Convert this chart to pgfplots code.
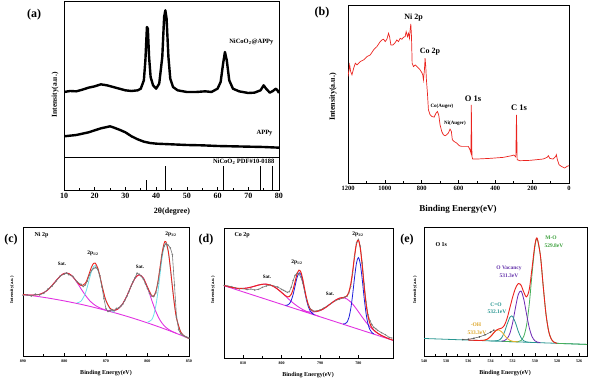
\documentclass[border=0pt]{standalone}
\usepackage{fontspec}
\setmainfont{Liberation Serif}
\usepackage{pgfplots}
\pgfplotsset{compat=1.18}
\newcommand\fs[1]{\bfseries\fontsize{#1}{#1}\selectfont}
\definecolor{mag}{RGB}{225,50,225}
\definecolor{cyn}{RGB}{110,225,235}
\definecolor{blu}{RGB}{30,30,220}
\definecolor{rd}{RGB}{235,35,30}
\definecolor{gry}{RGB}{120,120,120}
\definecolor{grn}{RGB}{70,175,90}
\definecolor{pur}{RGB}{110,40,180}
\definecolor{tea}{RGB}{40,150,145}
\definecolor{yel}{RGB}{235,175,40}
\definecolor{grnT}{RGB}{60,160,60}
\definecolor{purT}{RGB}{100,50,170}
\definecolor{yelT}{RGB}{220,165,40}
\begin{document}
\begin{tikzpicture}
\useasboundingbox (0pt,0pt) rectangle (591pt,382pt);
\pgfplotsset{base/.style={scale only axis, anchor=south west,
  axis line style={line width=0.7pt}, tick align=inside, xtick pos=bottom, ytick=\empty,
  /pgf/number format/assume math mode=true, /pgf/number format/1000 sep={},
  major tick length=2.5pt, minor tick length=1.5pt, tick style={line width=0.6pt, black}}}
% ---------- (a) upper ----------
\begin{axis}[base, at={(64pt,225pt)}, width=215pt, height=156pt,
  xmin=10, xmax=80, ymin=0, ymax=468, xtick=\empty]
\addplot[black, line width=2.4pt, line join=round] coordinates {(10,195)(12,198)(14,197)(16,202)(18,208)(20,212)(22,218)(24,215)(26,210)(28,205)(30,200)(32,198)(34,200)(35,205)(36,230)(36.5,290)(37.0,390)(37.3,385)(37.7,300)(38.2,240)(39,215)(40,205)(41,220)(42,300)(42.6,420)(43.0,440)(43.4,415)(44,300)(44.6,235)(45.5,210)(47,200)(50,195)(53,195)(56,197)(58,195)(60,205)(61,225)(61.8,280)(62.4,315)(63,290)(63.8,230)(65,205)(67,197)(70,192)(72,193)(74,200)(75.0,215)(75.8,205)(77,193)(78,198)(79,205)(79.5,200)(80,192)};
\addplot[black, line width=2.4pt, line join=round] coordinates {(10,62)(12,64)(14,66)(16,70)(18,74)(20,80)(22,86)(24,90)(25,92)(26,89)(28,82)(30,74)(32,62)(34,53)(36,46)(38,42)(40,40)(45,38)(50,36)(55,35)(60,33)(65,32)(70,31)(75,30)(80,28)};
\end{axis}
% ---------- (a) lower ----------
\begin{axis}[base, at={(64pt,192pt)}, width=215pt, height=33pt,
  xmin=10, xmax=80, ymin=0, ymax=1, xtick={10,20,...,80}, minor x tick num=1,
  ticklabel style={font=\fs{8}}]
\addplot[ycomb, black, line width=1pt, mark=none] coordinates {(37,0.3)(43,0.72)(62,0.72)(74,0.72)(78,0.72)};
\end{axis}
% ---------- (b) ----------
\begin{axis}[base, at={(348pt,199pt)}, width=221pt, height=178pt,
  x dir=reverse, xmin=0, xmax=1200, ymin=0, ymax=535, xtick={0,200,...,1200}, minor x tick num=1,
  ticklabel style={font=\fs{6.5}}]
\addplot[rd, line width=0.7pt] coordinates {(1200,320)(1194.6,340)(1191,355)(1185.6,335)(1178.4,325)(1169.3,345)(1160.3,360)(1151.3,355)(1133.2,365)(1115.2,370)(1097.1,380)(1079.1,385)(1061.1,400)(1043.0,410)(1025.0,425)(1016,430)(1006.9,432)(997.9,425)(988.9,432)(979.8,450)(974.4,440)(967.2,415)(956.4,415)(943.8,422)(934.7,430)(925.7,425)(916.7,435)(907.6,432)(898.6,438)(889.6,440)(884.2,455)(877.0,440)(871.6,450)(866.2,435)(862.6,460)(858.9,478)(855.3,440)(851.7,360)(844.5,350)(835.5,355)(826.4,350)(817.4,345)(808.4,340)(799.4,332)(794.0,325)(790.4,310)(785.0,340)(781.4,375)(777.8,350)(774.2,310)(768.7,270)(763.3,220)(754.3,205)(745.3,200)(732.6,198)(721.8,210)(714.6,215)(707.4,205)(700.2,175)(691.1,155)(682.1,145)(673.1,142)(664.1,145)(655.0,150)(646.0,162)(638.8,155)(633.4,130)(624.4,125)(609.9,120)(595.5,112)(582.9,110)(564.8,110)(546.8,110)(537.7,100)(532.3,90)(530.5,235)(526.9,80)(523.3,72)(501.7,72)(429.5,74)(357.3,77)(312.2,82)(299.5,84)(288.7,78)(285.1,205)(281.5,70)(267.1,67)(212.9,68)(140.8,72)(119.1,77)(111.9,82)(104.7,74)(86.6,72)(72.2,80)(68.6,85)(63.2,70)(54.1,55)(41.5,50)(23.5,45)(10.8,50)(0,52)};
\end{axis}
% ---------- (c) ----------
\begin{axis}[base, at={(23pt,26pt)}, width=166pt, height=129pt,
  x dir=reverse, xmin=850, xmax=890, ymin=0, ymax=382, xtick={850,860,...,890}, minor x tick num=1,
  ticklabel style={font=\fs{4}}]
\addplot[mag, line width=0.9pt, smooth] coordinates {(890,182)(888,178.9)(886,175.5)(884,171.7)(882,167.5)(880,163.0)(878,158.1)(876,152.9)(874,147.3)(872,141.3)(870,135)(868,128.3)(866,121.3)(864,113.9)(862,106.1)(860,98.0)(858,89.5)(856,80.7)(854,71.5)(852,61.9)(850,52)};
\addplot[mag, line width=0.9pt, smooth, tension=0.5] coordinates {(890,182.2)(888,180.2)(886,182.5)(885,187.5)(884,196.2)(883,208.9)(882,223.5)(881,236.9)(880,244.8)(879,244.2)(878,234.6)(877,218.1)(876,198.8)(875,180.4)(874,164.9)(873,153.6)(872,145.6)(871,140.0)(870,135.7)(869,131.9)};
\addplot[mag, line width=0.9pt, smooth, tension=0.5] coordinates {(870,135.6)(869,133.8)(868,134.5)(867,140.3)(866,154.3)(865,177.1)(864,205.6)(863,230.3)(862,240.7)(861,230.4)(860,202.1)(859,165.9)(858,132.0)(857,106.5)(856,89.9)(855,79.4)(854,72.5)(853,66.9)};
\addplot[cyn, line width=0.8pt, smooth, tension=0.5] coordinates {(877,157.2)(876,162.5)(875,184.9)(874.5,204.6)(874,228.2)(873.5,250.2)(873,264.9)(872.6,268.2)(872,256.7)(871.5,235.4)(871,208.8)(870.5,183.5)(870,162.9)(869,138.7)(868,129.4)};
\addplot[cyn, line width=0.8pt, smooth, tension=0.5] coordinates {(860,99.8)(859,107.1)(858.5,121.5)(858,148.0)(857.5,188.3)(857,239.1)(856.5,289.4)(856,324.3)(855.6,332.8)(855,307.8)(854.5,260.0)(854,203.7)(853.5,151.6)(853,112.0)(852,71.2)(851,58.1)(850,52)};
\addplot[rd, line width=0.9pt, smooth, tension=0.5] coordinates {(890,182.2)(888,180.2)(886,182.5)(885,187.5)(884,196.2)(883,208.9)(882,223.5)(881,236.9)(880,244.8)(879,244.2)(878,234.8)(877,219.8)(876,208.4)(875,215.2)(874.5,227.9)(874,245.8)(873.5,263.2)(873,274.2)(872.6,275.2)(872,261.0)(871.5,238.3)(871,210.6)(870.5,185)(870,164.2)(869,141.0)(868,135.6)(867,140.3)(866,154.3)(865,177.1)(864,205.6)(863,230.3)(862,240.7)(861,230.4)(860,203.9)(859,179.2)(858.5,177.9)(858,190.5)(857.5,219.1)(857,260.5)(856.5,303.6)(856,333.5)(855.6,339)(855,311.1)(854.5,261.9)(854,204.7)(853.5,152)(853,112.2)(852,71.2)(851,58.1)(850,52)};
\addplot[gry, line width=0.6pt, mark=o, mark size=0.7pt, mark options={line width=0.3pt}] coordinates {(890,180)(889,181)(888,178)(887,183)(886,181)(885,186)(884,198)(883,207)(882,222)(881,237)(880,243)(879.5,246)(879,241)(878,236)(877,220)(876,212)(875.5,206)(875,210)(874.5,222)(874,240)(873.5,253)(873,259)(872.5,262)(872,257)(871.5,238)(871,205)(870.5,170)(870,140)(869.5,132)(869,134)(868.5,137)(868,134)(867.5,141)(867,142)(866.5,147)(866,153)(865.5,164)(865,176)(864.5,190)(864,206)(863.5,220)(863,232)(862.5,245)(862,242)(861.5,236)(861,228)(860.5,214)(860,200)(859.5,186)(859,178)(858.5,176)(858,187)(857.5,215)(857,255)(856.5,300)(856,325)(855.5,333)(855,328)(854.5,320)(854,300)(853.5,210)(853,115)(852.5,78)(852,66)(851.5,62)(851,58)(850.5,56)(850,53)};
\end{axis}
% ---------- (d) ----------
\begin{axis}[base, at={(224pt,24pt)}, width=169pt, height=130pt,
  x dir=reverse, xmin=771, xmax=815, ymin=0, ymax=390, xtick={780,790,800,810}, minor x tick num=1,
  ticklabel style={font=\fs{4}}]
\addplot[mag, line width=0.9pt] coordinates {(815,217.0)(771,52.9)};
\addplot[mag, line width=0.9pt, smooth, tension=0.5] coordinates {(815,217.5)(812,209.5)(810,208.5)(808,212.4)(806,218.9)(805,221.2)(804,221.5)(803,219.2)(802,214)(801,206.2)(800,196.5)(799,185.8)(798,175)(797,165.1)(796,156.3)(795,148.8)(794,142.3)(793,137)(792,132.3)(791,127.9)(790,123.9)};
\addplot[mag, line width=0.9pt, smooth, tension=0.5] coordinates {(795,143.2)(794,140.4)(793,138.4)(792,137.7)(791,138.9)(790,142.2)(789,148.0)(788,156.1)(787,164.9)(786,173.2)(785,179.2)(784,180.7)(783.5,179.5)(783,176.9)(782,168.0)(781,154.6)(780,138.8)(779,122.5)(778,107.0)(777,93.8)(776,83.0)(775,74.3)(774,67.6)(773,62.1)(772,57.4)};
\addplot[blu, line width=0.8pt, smooth, tension=0.5] coordinates {(799,158.3)(798.5,158.6)(798,162.4)(797.5,172.5)(797,190.7)(796.5,215.8)(796,240.6)(795.5,254.6)(795.3,255.5)(795,250.9)(794.5,230.1)(794,200.9)(793.5,173.2)(793,152.7)(792.5,140.4)(792,133.8)(791.5,130.0)};
\addplot[blu, line width=0.8pt, smooth, tension=0.5] coordinates {(784,102.2)(783.5,102.6)(783,107.1)(782.5,120.5)(782,147.5)(781.5,190.5)(781,242.5)(780.5,285.2)(780,301.4)(779.5,281.5)(779,235.0)(778.5,179.3)(778,132.6)(777.5,101.8)(777,84.8)(776.5,76.5)(776,72.3)};
\addplot[gry, line width=0.6pt, mark=o, mark size=0.6pt, mark options={line width=0.3pt}] coordinates {(815,218)(814,216)(813,214)(812,210)(811,207)(810,208)(809,205)(808,207)(807,204)(806,206)(805,212)(804,216)(803,219)(802,216)(801,213)(800,206)(799.5,203)(799,200)(798.5,197)(798,199)(797.5,212)(797,232)(796.5,248)(796,254)(795.5,252)(795,243)(794.5,225)(794,200)(793.5,176)(793,158)(792.5,147)(792,143)(791.5,140)(791,141)(790,144)(789,150)(788,157)(787,165)(786,172)(785,176)(784,180)(783.5,183)(783,185)(782.5,195)(782,215)(781.5,255)(781,305)(780.5,345)(780,356)(779.5,335)(779,285)(778.5,222)(778,168)(777.5,130)(777,112)(776.5,100)(776,92)(775.5,88)(775,83)(774,76)(773,70)(772,62)(771.3,60)};
\addplot[rd, line width=1pt, smooth, tension=0.5] coordinates {(815,217.5)(813,211.7)(811,208.5)(810,208.5)(809,209.9)(808,212.4)(807,215.6)(806,218.9)(805,221.2)(804,221.5)(803,219.2)(802,214.0)(801,206.2)(800,196.5)(799,186.8)(798.5,183.6)(798,183.9)(797.5,190.8)(797,206.2)(796.5,228.7)(796,251.3)(795.5,263.3)(795,258.1)(794.5,236.3)(794,206.4)(793.5,178.5)(793,158.3)(792.5,146.8)(792,141.4)(791,139.4)(790,142.4)(789,148.1)(788,156.1)(787,164.9)(786,173.2)(785,179.2)(784,181.5)(783.5,182.6)(783,186.4)(782.5,197.8)(782,221.6)(781.5,260.1)(781,306.9)(780.5,343.8)(780,353.8)(779.5,327.6)(779,274.8)(778.5,212.7)(778,160.6)(777.5,124.8)(777,103.3)(776.5,91.2)(776,83.8)(775,74.3)(774,67.6)(773,62.1)(772,57.4)(771,53.3)};
\end{axis}
% ---------- (e) ----------
\begin{axis}[base, at={(424pt,26pt)}, width=163pt, height=129pt,
  x dir=reverse, xmin=525.3, xmax=540, ymin=0, ymax=385, xtick={526,528,...,540}, minor x tick num=1,
  ticklabel style={font=\fs{4}}]
\addplot[tea, line width=0.8pt] coordinates {(540,52.3)(538,49.9)(536,47.5)(534,45.0)(532,42.6)(530,40.2)(528,37.8)(526,35.4)(525.3,34.5)};
\addplot[grn, line width=0.8pt, smooth, tension=0.5] coordinates {(525.3,34.5)(527,36.6)(528,37.8)(528.3,41.6)(528.5,49.0)(528.75,72.9)(529,125.1)(529.25,208.6)(529.5,298.6)(529.8,350.0)(530,326.3)(530.25,247.4)(530.5,157.1)(530.75,92.1)(531,58.8)(531.25,46.3)(531.5,43.0)(532,42.6)(533,43.8)};
\addplot[pur, line width=0.8pt, smooth, tension=0.5] coordinates {(529.5,39.8)(529.8,41.7)(530,45.4)(530.25,57.3)(530.5,83.3)(530.75,124.6)(531,169.2)(531.25,193.9)(531.5,183.2)(531.75,144.4)(532,100.0)(532.25,68.0)(532.5,51.8)(532.75,45.8)(533,44.3)};
\addplot[tea, line width=0.8pt, smooth, tension=0.5] coordinates {(530.5,40.8)(530.75,42.0)(531,45.3)(531.25,54.6)(531.5,73.7)(531.75,99.2)(532,117.8)(532.1,119.7)(532.25,115.8)(532.5,95.0)(532.75,70.8)(533,54.2)(533.25,47.0)(533.5,45.2)(534,45.0)};
\addplot[yel, line width=0.8pt, smooth, tension=0.5] coordinates {(531.5,42.0)(532,43.8)(532.25,46.6)(532.5,52.7)(532.75,62.1)(533,72.2)(533.25,77.9)(533.5,75.9)(533.75,67.5)(534,57.8)(534.25,50.9)(534.5,47.5)(534.75,46.4)(535,46.3)};
\addplot[black!70, line width=0.5pt, mark=*, mark size=0.5pt] coordinates {(536.5,49)(536,50)(535.5,53)(535,57)(534.5,63)(534,71)(533.7,77)};
\addplot[rd, line width=0.9pt, smooth, tension=0.5] coordinates {(528,37.8)(528.3,41.6)(528.5,49.0)(528.75,72.9)(529,125.1)(529.25,208.6)(529.5,298.8)(529.8,351.7)(530,331.5)(530.25,264.2)(530.5,199.6)(530.75,176.5)(531,190.5)(531.25,211.4)(531.5,216.1)(531.75,202.0)(532,176.4)(532.25,144.6)(532.5,113.1)(532.75,91.7)(533,83.1)(533.25,80.8)(533.5,76.6)(533.75,67.5)(534,57.8)(534.25,50.9)(534.5,47.5)(535,46.3)(536,47.5)};
\end{axis}
% ---------- texts ----------
\node[font=\fs{12}] at (34pt,367pt) {(a)};
\node[font=\fs{12}] at (322pt,369pt) {(b)};
\node[font=\fs{12}] at (11pt,142pt) {(c)};
\node[font=\fs{12}] at (206pt,142pt) {(d)};
\node[font=\fs{12}] at (407pt,142pt) {(e)};
% a
\node[font=\fs{6.5}, anchor=east] at (277pt,340pt) {NiCoO\textsubscript{2}@APPy};
\node[font=\fs{6.5}, anchor=east] at (276pt,249pt) {APPy};
\node[font=\fs{6.5}, anchor=east] at (278pt,220pt) {NiCoO\textsubscript{2} PDF\#10-0188};
\node[font=\fs{7.5}, rotate=90] at (55pt,287pt) {Intensity(a.u.)};
\node[font=\fs{8}] at (172pt,170pt) {2θ(degree)};
% b
\node[font=\fs{8}] at (413.5pt,364pt) {Ni 2p};
\node[font=\fs{8}] at (430pt,330pt) {Co 2p};
\node[font=\fs{5}] at (442pt,276pt) {Co(Auger)};
\node[font=\fs{5}] at (455pt,259pt) {Ni(Auger)};
\node[font=\fs{8.5}] at (473pt,283pt) {O 1s};
\node[font=\fs{8.5}] at (519pt,274pt) {C 1s};
\node[font=\fs{8}, rotate=90] at (333pt,285pt) {Intensity(a.u.)};
\node[font=\fs{9}] at (458pt,173pt) {Binding Energy(eV)};
% c
\node[font=\fs{6}, anchor=west] at (31pt,147pt) {Ni 2p};
\node[font=\fs{5}] at (62pt,118pt) {Sat.};
\node[font=\fs{5.5}] at (93pt,129pt) {2p\textsubscript{1/2}};
\node[font=\fs{5}] at (140pt,115pt) {Sat.};
\node[font=\fs{5.5}] at (171pt,148pt) {2p\textsubscript{3/2}};
\node[font=\fs{4.5}, rotate=90] at (12pt,92pt) {Intensity(a.u.)};
\node[font=\fs{6}] at (106pt,9pt) {Binding Energy(eV)};
% d
\node[font=\fs{6}, anchor=west] at (231pt,147pt) {Co 2p};
\node[font=\fs{5}] at (267pt,105pt) {Sat.};
\node[font=\fs{5.5}] at (297pt,120pt) {2p\textsubscript{1/2}};
\node[font=\fs{5}] at (330pt,88pt) {Sat.};
\node[font=\fs{5.5}] at (358pt,148pt) {2p\textsubscript{3/2}};
\node[font=\fs{4.5}, rotate=90] at (213pt,92pt) {Intensity(a.u.)};
\node[font=\fs{6}] at (308pt,7pt) {Binding Energy(eV)};
% e
\node[font=\fs{6}, anchor=west] at (432pt,137pt) {O 1s};
\node[font=\fs{5.5}, text=grnT] at (551pt,144pt) {M-O};
\node[font=\fs{5.5}, text=grnT] at (554pt,136pt) {529.8eV};
\node[font=\fs{5.5}, text=purT] at (509pt,114pt) {O Vacancy};
\node[font=\fs{5.5}, text=purT] at (509pt,106pt) {531.3eV};
\node[font=\fs{5.5}, text=tea] at (496pt,77pt) {C=O};
\node[font=\fs{5.5}, text=tea] at (497pt,70pt) {532.1eV};
\node[font=\fs{5.5}, text=yelT] at (476pt,57pt) {-OH};
\node[font=\fs{5.5}, text=yelT] at (477pt,49pt) {533.3eV};
\node[font=\fs{4.5}, rotate=90] at (415pt,92pt) {Intensity(a.u.)};
\node[font=\fs{6}] at (505pt,9pt) {Binding Energy(eV)};
\end{tikzpicture}
\end{document}
